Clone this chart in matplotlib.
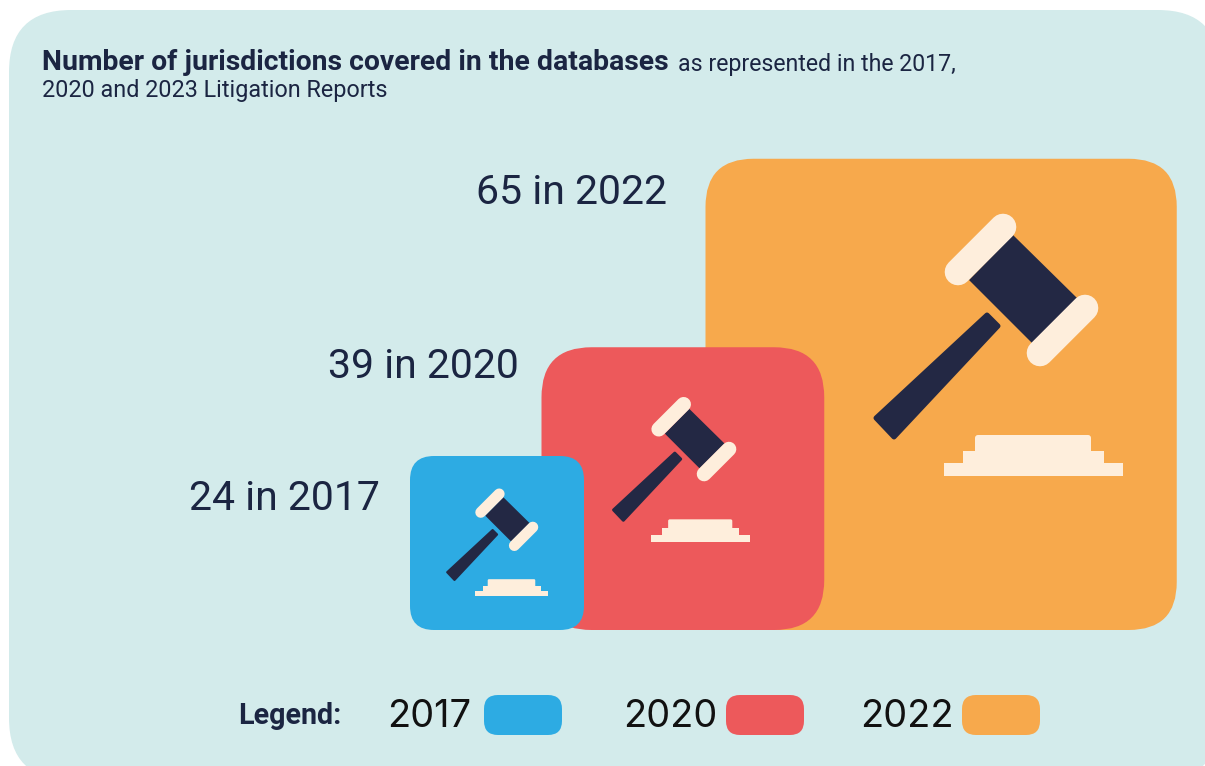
import matplotlib
matplotlib.use('Agg')
import matplotlib.pyplot as plt
from matplotlib.patches import FancyBboxPatch, Polygon

years = [2017, 2020, 2022]
counts = [24, 39, 65]
colors = ['#2DABE3', '#ED595B', '#F7A94C']

plt.rcParams['font.family'] = ['Roboto', 'DejaVu Sans']
navy = '#1B2542'
dark = '#232844'
cream = '#FEEEDC'
panel = '#D3EBEB'
px = 0.72  # points per pixel at dpi 100

fig = plt.figure(figsize=(12.05, 7.66), dpi=100)
ax = fig.add_axes([0, 0, 1, 1])
ax.set_xlim(0, 1205)
ax.set_ylim(766, 0)
ax.axis('off')


def rbox(x, y, w, h, r, c, z=1):
    ax.add_patch(FancyBboxPatch((x, y), w, h, boxstyle=f'round,pad=0,rounding_size={r}',
                                fc=c, ec='none', zorder=z))


def gavel(left, bottom, s, z):
    # icon drawn at full size for the 2022 box, then scaled to the others
    def p(x, y):
        return (left + (x - 944) * s, bottom + (y - 476) * s)

    ax.add_patch(Polygon([p(1013, 235), p(1077, 298), p(1032, 343), p(969, 280)], fc=dark, ec='none', zorder=z))
    ax.add_patch(Polygon([p(987, 315), p(998, 326), p(894, 437), p(876, 418)], fc=dark, ec=dark,
                         lw=5 * s * px, joinstyle='round', zorder=z))
    for a, b in [((958, 272), (1003, 227)), ((1040, 353), (1085, 308))]:
        ax.plot(*zip(p(*a), p(*b)), color=cream, lw=26.6 * s * px, solid_capstyle='round', zorder=z + 1)
    rbox(*p(975, 435), 116 * s, 30 * s, 3 * s, cream, z)
    ax.fill_between([p(963, 0)[0], p(1104, 0)[0]], p(0, 451)[1], p(0, 476)[1], color=cream, lw=0, zorder=z)
    ax.fill_between([p(944, 0)[0], p(1123, 0)[0]], p(0, 463)[1], p(0, 476)[1], color=cream, lw=0, zorder=z)


rbox(9, 10, 1211, 770, 62, panel, 0)

ax.text(42, 62, 'Number of jurisdictions covered in the databases', fontsize=20.4, fontweight='bold',
        color=navy, va='center')
ax.text(678, 64, 'as represented in the 2017,', fontsize=16.7, color=navy, va='center')
ax.text(42, 91, '2020 and 2023 Litigation Reports', fontsize=16.8, color=navy, va='center')

per_count = 7.25
baseline = 630
lefts = [410, 541.5, 705.5]
radii = [24, 50, 48]
icons = [(475, 596, 0.41), (651, 542, 0.553), (944, 476, 1.0)]
label_right = [380, 519, 667]
label_y = [498, 366, 192]

# biggest box goes first so the smaller ones overlap it
for i in [2, 1, 0]:
    side = counts[i] * per_count
    z = 10 * (3 - i)
    rbox(lefts[i], baseline - side, side, side, radii[i], colors[i], z)
    gavel(icons[i][0], icons[i][1], icons[i][2], z + 1)
    ax.text(label_right[i], label_y[i], f'{counts[i]} in {years[i]}', fontsize=29.5, color=navy,
            ha='right', va='center')

ax.text(238, 716, 'Legend:', fontsize=20.6, fontweight='bold', color=navy, va='center')
for year, c, tx, bx in zip(years, colors, [387, 623, 860], [484, 726, 962]):
    ax.text(tx, 717, str(year), fontsize=27.3, color='#111111', va='center', family=['Inter', 'DejaVu Sans'])
    rbox(bx, 695, 78, 40, 14, c, 5)

fig.savefig('out.png', dpi=100)
